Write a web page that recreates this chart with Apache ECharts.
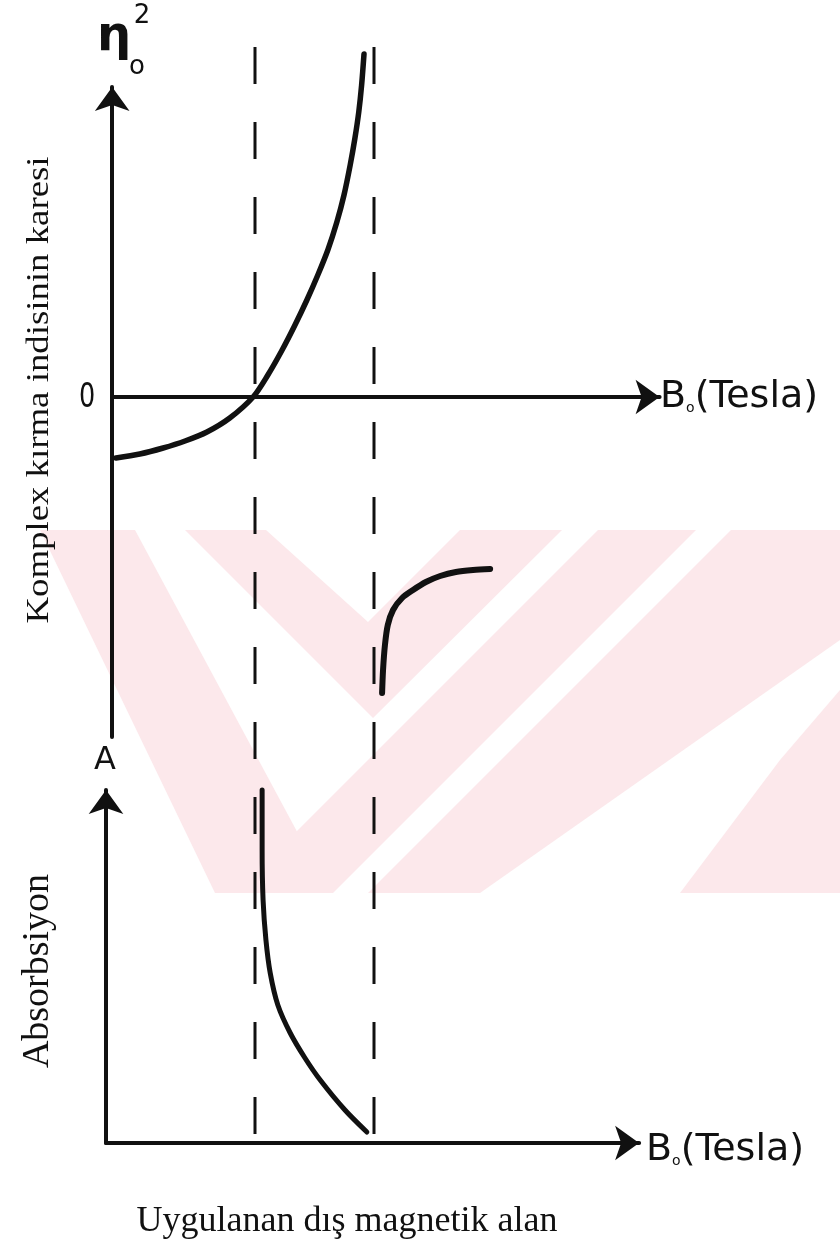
<!DOCTYPE html>
<html>
<head>
<meta charset="utf-8">
<script src="https://cdn.jsdelivr.net/npm/echarts@6/dist/echarts.min.js"></script>
<style>
  html, body { margin: 0; padding: 0; background: #ffffff; }
  #chart { width: 840px; height: 1243px; }
</style>
</head>
<body>
<div id="chart"></div>
<script>
// Applied field B0 (arbitrary units); the two resonance fields are marked by dashed lines
const resonanceFields = [3.0, 5.5];

// Square of the complex refractive index, branch below the resonances
const indexBranchLow = [
  [0.08, -1.22], [0.58, -1.14], [1.07, -1.02], [1.53, -0.88], [1.99, -0.70],
  [2.47, -0.42], [2.96, 0.0], [3.27, 0.44], [3.57, 0.94], [3.84, 1.44],
  [4.09, 1.94], [4.32, 2.44], [4.53, 2.94], [4.72, 3.50], [4.87, 4.04],
  [5.0, 4.64], [5.10, 5.18], [5.18, 5.70], [5.24, 6.24], [5.29, 6.86]
];

// Square of the complex refractive index, branch above the second resonance
const indexBranchHigh = [
  [5.67, -5.92], [5.69, -5.46], [5.73, -4.96], [5.79, -4.56], [5.90, -4.26],
  [6.09, -4.02], [6.32, -3.86], [6.59, -3.70], [6.89, -3.58], [7.22, -3.50],
  [7.58, -3.46], [7.94, -3.44]
];

// Absorption between the two resonance fields
const absorption = [
  [3.28, 7.06], [3.28, 5.86], [3.30, 4.86], [3.36, 4.06], [3.45, 3.40],
  [3.61, 2.76], [3.87, 2.20], [4.18, 1.70], [4.50, 1.26], [5.02, 0.66],
  [5.48, 0.22]
];

// Axis captions
const upperYLabel = 'Komplex kırma indisinin karesi';
const lowerYLabel = 'Absorbsiyon';
const xCaption = 'Uygulanan dış magnetik alan';
const fieldUnit = '(Tesla)';
const zeroLabel = '0';
const absLabel = 'A';

const ink = '#111111';
const pink = '#fce8eb';

const chart = echarts.init(document.getElementById('chart'), null, { renderer: 'canvas' });

const arrowAxisLine = {
  show: true,
  onZero: true,
  symbol: ['none', 'arrow'],
  symbolSize: [26, 24],
  lineStyle: { color: ink, width: 4 }
};
const hiddenBits = {
  axisTick: { show: false },
  axisLabel: { show: false },
  splitLine: { show: false }
};

// Faint background emblem stripes
const stripes = [
  [[40, 530], [135, 530], [330, 893], [215, 893]],
  [[185, 530], [266, 530], [368, 622], [460, 530], [562, 530], [373, 718]],
  [[598, 530], [696, 530], [333, 893], [235, 893]],
  [[731, 530], [840, 530], [840, 640], [480, 893], [368, 893]],
  [[780, 760], [840, 690], [840, 893], [680, 893]]
];

const fieldLabel = (x, y) => ({
  type: 'text', x: x, y: y,
  style: {
    text: '{b|B}{s|o}{t|' + fieldUnit + '}',
    verticalAlign: 'middle',
    rich: {
      b: { font: '38px "DejaVu Sans", sans-serif', fill: ink },
      s: { font: '14px "DejaVu Sans", sans-serif', fill: ink, padding: [22, 0, 0, 0] },
      t: { font: '38px "DejaVu Sans", sans-serif', fill: ink }
    }
  }
});

const option = {
  backgroundColor: '#ffffff',
  animation: false,
  graphic: [
    ...stripes.map(pts => ({
      type: 'polygon', z: -10, silent: true,
      shape: { points: pts },
      style: { fill: pink }
    })),
    {
      type: 'text', x: 40, y: 390, rotation: Math.PI / 2, scaleX: 1.15,
      style: { text: upperYLabel, font: '32px "Liberation Serif", serif', fill: ink, align: 'center', verticalAlign: 'middle' }
    },
    {
      type: 'text', x: 38, y: 971, rotation: Math.PI / 2,
      style: { text: lowerYLabel, font: '38px "Liberation Serif", serif', fill: ink, align: 'center', verticalAlign: 'middle' }
    },
    {
      type: 'text', x: 347, y: 1222,
      style: { text: xCaption, font: '36px "Liberation Serif", serif', fill: ink, align: 'center', verticalAlign: 'middle' }
    },
    {
      type: 'text', x: 87, y: 398, scaleX: 0.75,
      style: { text: zeroLabel, font: '34px "DejaVu Sans", sans-serif', fill: ink, align: 'center', verticalAlign: 'middle' }
    },
    {
      type: 'text', x: 105, y: 761,
      style: { text: absLabel, font: '32px "DejaVu Sans", sans-serif', fill: ink, align: 'center', verticalAlign: 'middle' }
    },
    {
      type: 'text', x: 114, y: 38,
      style: { text: 'η', font: 'bold 48px "DejaVu Sans", sans-serif', fill: ink, align: 'center', verticalAlign: 'middle' }
    },
    {
      type: 'text', x: 137, y: 67,
      style: { text: 'o', font: '26px "DejaVu Sans", sans-serif', fill: ink, align: 'center', verticalAlign: 'middle' }
    },
    {
      type: 'text', x: 142, y: 16,
      style: { text: '2', font: '26px "DejaVu Sans", sans-serif', fill: ink, align: 'center', verticalAlign: 'middle' }
    },
    fieldLabel(660, 397),
    fieldLabel(646, 1150)
  ],
  grid: [
    // refractive index panel
    { left: 112.2, top: 87, width: 47.6 * 11.5, height: 650 },
    // absorption panel
    { left: 106, top: 790, width: 47.6 * 11.2, height: 353 },
    // overlay spanning both panels for the resonance markers
    { left: 112.2, top: 47, width: 47.6 * 11.5, height: 1088 }
  ],
  xAxis: [
    { gridIndex: 0, type: 'value', min: 0, max: 11.5, axisLine: arrowAxisLine, ...hiddenBits },
    { gridIndex: 1, type: 'value', min: 0, max: 11.2, axisLine: arrowAxisLine, ...hiddenBits },
    { gridIndex: 2, type: 'value', min: 0, max: 11.5, show: false }
  ],
  yAxis: [
    { gridIndex: 0, type: 'value', min: -6.8, max: 6.2, axisLine: { ...arrowAxisLine, onZero: false }, ...hiddenBits },
    { gridIndex: 1, type: 'value', min: 0, max: 7.06, axisLine: { ...arrowAxisLine, onZero: false }, ...hiddenBits },
    { gridIndex: 2, type: 'value', min: 0, max: 1, show: false }
  ],
  series: [
    {
      type: 'line', xAxisIndex: 0, yAxisIndex: 0, data: indexBranchLow,
      smooth: 0.3, showSymbol: false, clip: false,
      lineStyle: { color: ink, width: 5.5, cap: 'round' }
    },
    {
      type: 'line', xAxisIndex: 0, yAxisIndex: 0, data: indexBranchHigh,
      smooth: 0.3, showSymbol: false, clip: false,
      lineStyle: { color: ink, width: 6, cap: 'round' }
    },
    {
      type: 'line', xAxisIndex: 1, yAxisIndex: 1, data: absorption,
      smooth: 0.3, showSymbol: false, clip: false,
      lineStyle: { color: ink, width: 5, cap: 'round' }
    },
    ...resonanceFields.map(b => ({
      type: 'line', xAxisIndex: 2, yAxisIndex: 2,
      data: [[b, 1], [b, 0]],
      showSymbol: false, clip: false,
      lineStyle: { color: ink, width: 3, type: [37, 38] }
    }))
  ]
};

chart.setOption(option);
</script>
</body>
</html>
